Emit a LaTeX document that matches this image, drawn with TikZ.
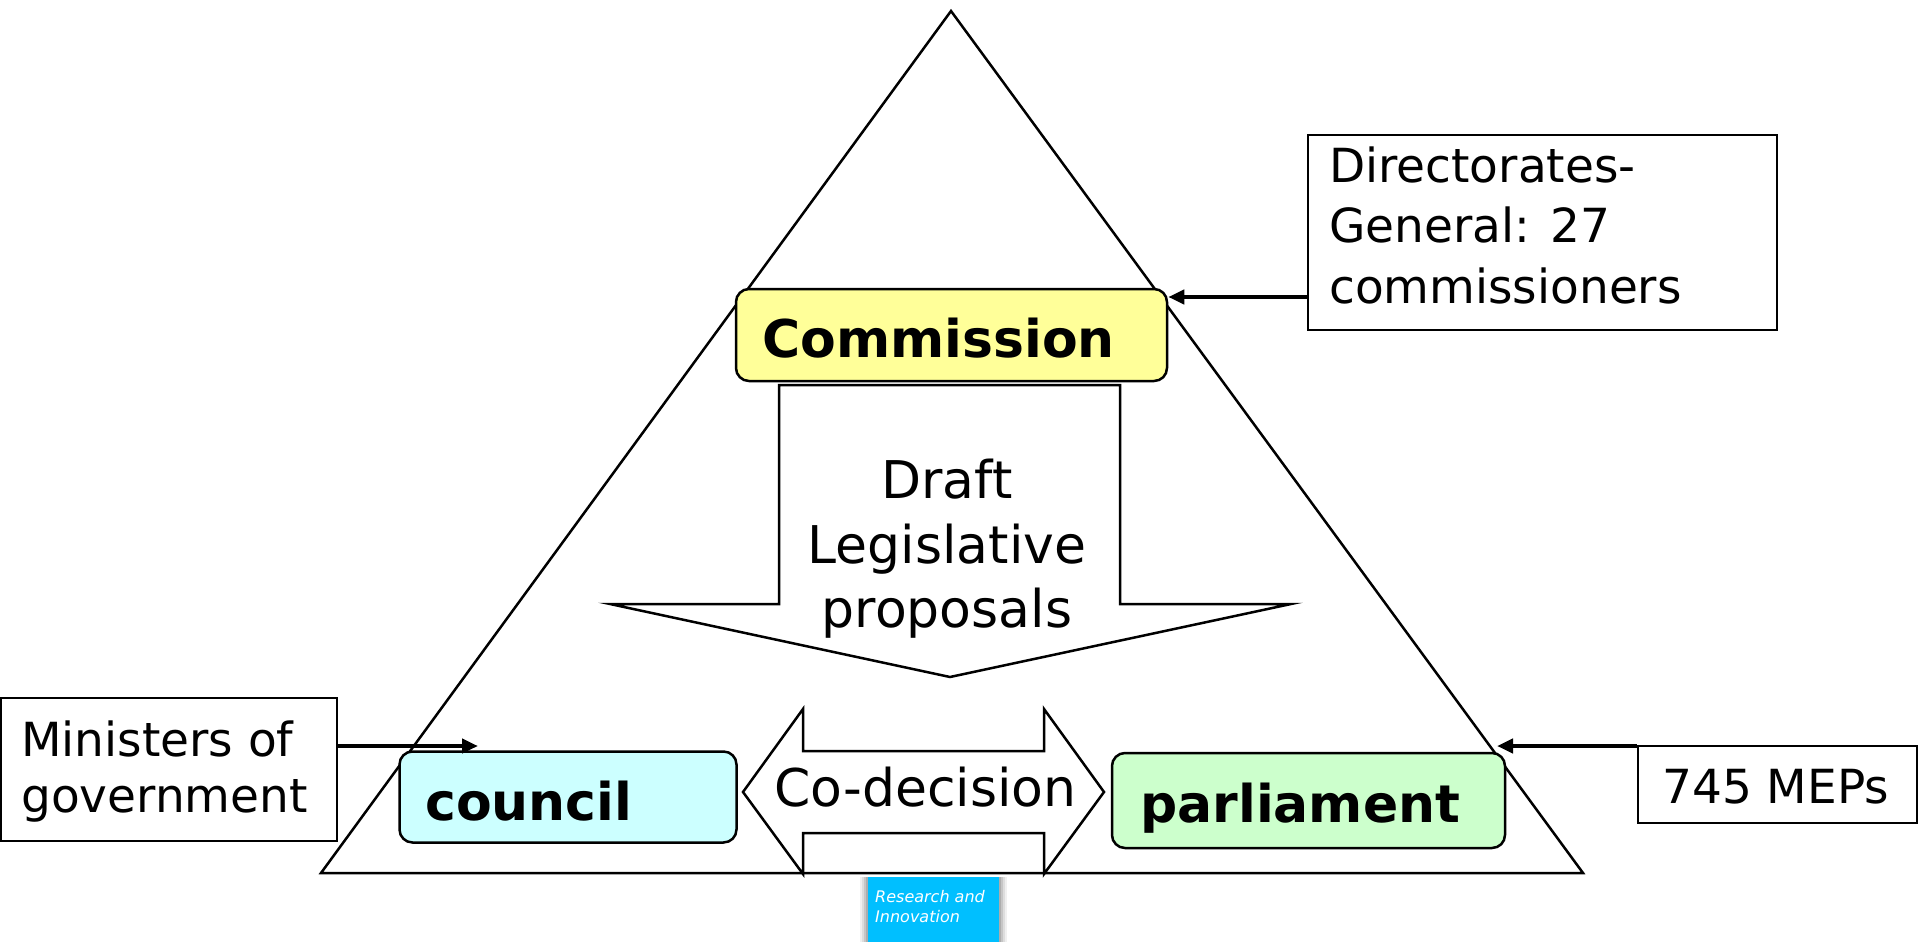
\documentclass[tikz,border=0pt]{standalone}
\usepackage{fontspec}
\setmainfont{DejaVu Sans}
\usetikzlibrary{arrows.meta}
\definecolor{commfill}{HTML}{FFFF99}
\definecolor{councilfill}{HTML}{CCFFFF}
\definecolor{parlfill}{HTML}{CCFFCC}
\definecolor{rifill}{HTML}{00BFFF}
\tikzset{
  outline/.style={draw=black, line width=2.5pt, line join=miter},
  rbox/.style={draw=black, line width=2.5pt, rounded corners=13pt, inner sep=0pt},
  pbox/.style={draw=black, line width=2.5pt, fill=white, inner sep=0pt},
  bigbold/.style={inner sep=0pt, anchor=base west, font=\fontsize{52}{62}\selectfont\bfseries},
  bigtxt/.style={inner sep=0pt, anchor=base, font=\fontsize{52}{62}\selectfont},
  sidetxt/.style={inner sep=0pt, anchor=base west, font=\fontsize{47}{57}\selectfont},
  arr/.style={line width=4.5pt, -{Triangle[length=16pt, width=14pt]}},
}
\begin{document}
\begin{tikzpicture}[x=1pt, y=-1pt]
\useasboundingbox (0,0) rectangle (1920,942);
\fill[white] (0,0) rectangle (1920,942);

% triangle
\draw[outline] (951,11) -- (1583,873) -- (321,873) -- cycle;

% draft arrow
\draw[outline, fill=white] (779,385) -- (1120,385) -- (1120,604) -- (1291,604)
  -- (950,677) -- (610,604) -- (779,604) -- cycle;
\node[bigtxt] (d1) at (947,498) {Draft};
\node[bigtxt] (d2) at (947,563) {Legislative};
\node[bigtxt] (d3) at (947,627) {proposals};

% co-decision arrow
\draw[outline, fill=white] (743,792) -- (803,709) -- (803,751) -- (1044,751)
  -- (1044,709) -- (1104,792) -- (1044,874) -- (1044,833) -- (803,833)
  -- (803,874) -- cycle;
\node[bigtxt, anchor=base west] (cod) at (774,806) {Co-decision};

% main boxes
\node[rbox, fill=commfill, minimum width=431pt, minimum height=92pt] (comm) at (951.5,335) {};
\node[bigbold] (commt) at (762,357) {Commission};
\node[rbox, fill=councilfill, minimum width=337pt, minimum height=91pt] (coun) at (568,797) {};
\node[bigbold] (count) at (425,820) {council};
\node[rbox, fill=parlfill, minimum width=393pt, minimum height=95pt] (parl) at (1308.5,800.5) {};
\node[bigbold] (parlt) at (1140,822) {parliament};

% side boxes
\node[pbox, minimum width=469pt, minimum height=195pt] (dg) at (1542.5,232.5) {};
\node[sidetxt] (dg1) at (1329,182) {Directorates-};
\node[sidetxt] (dg2) at (1329,242) {General: 27};
\node[sidetxt] (dg3) at (1329,303) {commissioners};

\node[pbox, minimum width=336pt, minimum height=143pt] (mins) at (169,769.5) {};
\node[sidetxt] (mn1) at (21,756) {Ministers of};
\node[sidetxt] (mn2) at (21,812) {government};

\node[pbox, minimum width=279pt, minimum height=77pt] (mep) at (1777.5,784.5) {};
\node[sidetxt] (mept) at (1662,803) {745 MEPs};

% connectors
\coordinate (dgy) at (0,297);
\draw[arr] (dg.west |- dgy) -- (comm.east |- dgy);
\coordinate (mntip) at (478,746);
\draw[arr] (mins.east |- mntip) -- (mntip);
\coordinate (mptip) at (1497,746);
\draw[arr] (mep.west |- mptip) -- (mptip);

% research and innovation tag
\foreach \e/\o in {8/0.06,6/0.08,4/0.10,2/0.12}{
  \fill[black, opacity=\o] (868-\e,877) rectangle (999+\e,942);
}
\node[fill=rifill, minimum width=131pt, minimum height=65pt, inner sep=0pt] (ri) at (933.5,909.5) {};
\node[inner sep=0pt, anchor=base west, text=white, font=\fontsize{16}{19}\selectfont\itshape] (ri1) at (875,902) {Research and};
\node[inner sep=0pt, anchor=base west, text=white, font=\fontsize{16}{19}\selectfont\itshape] (ri2) at (875,922) {Innovation};
\end{tikzpicture}
\end{document}
